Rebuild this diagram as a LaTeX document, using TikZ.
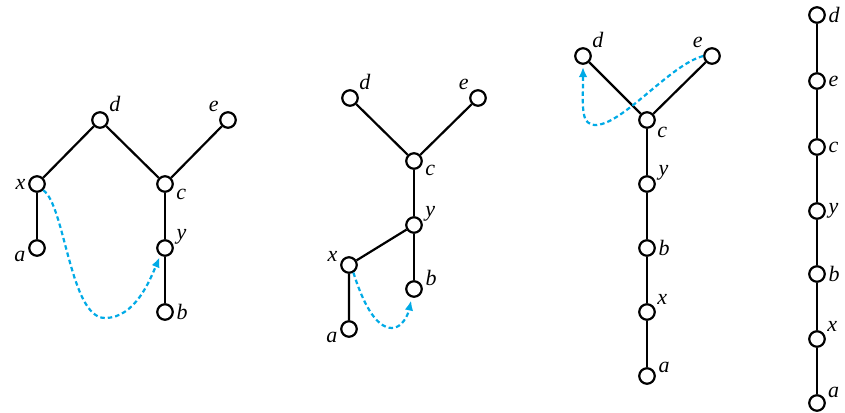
\documentclass[tikz,border=0pt]{standalone}
\usepackage{fontspec}
\setmainfont{Liberation Serif}
\usetikzlibrary{arrows.meta}
\definecolor{walkblue}{RGB}{0,170,230}
\tikzset{
  vtx/.style={draw,circle,line width=2.2pt,fill=white,minimum size=15.5pt,inner sep=0pt},
  edg/.style={line width=2.2pt},
  lbl/.style={font=\fontsize{22}{22}\selectfont\itshape,inner sep=2.5pt},
  vl/.style 2 args={label={[lbl]#1:#2}},
  walk/.style={walkblue,line width=2.2pt,dash pattern=on 4.5pt off 3pt,-{Latex[length=10pt,width=8.5pt]}},
}

\begin{document}
\begin{tikzpicture}[x=1pt,y=-1pt]
 \useasboundingbox (0,0) rectangle (845,412);
 % first tree
 \node[vtx,vl={40}{d}]   (t1d) at (100,120) {};
 \node[vtx,vl={140}{e}]  (t1e) at (228,120) {};
 \node[vtx,vl={180}{x}]  (t1x) at (37,184) {};
 \node[vtx,vl={-15}{c}]  (t1c) at (165,184) {};
 \node[vtx,vl={185}{a}]  (t1a) at (37,248) {};
 \node[vtx,vl={5}{y}]    (t1y) at (165,248) {};
 \node[vtx,vl={0}{b}]    (t1b) at (165,312) {};
 \draw[edg] (t1x)--(t1d)--(t1c)--(t1e);
 \draw[edg] (t1x)--(t1a);
 \draw[edg] (t1c)--(t1y)--(t1b);
 \draw[walk,shorten >=2pt] (t1x.-45) .. controls (65,205) and (70,318) .. (105,318)
   .. controls (135,318) and (150,280) .. (t1y.-122);
 % second tree
 \node[vtx,vl={40}{d}]   (t2d) at (350,98) {};
 \node[vtx,vl={140}{e}]  (t2e) at (478,98) {};
 \node[vtx,vl={-10}{c}]  (t2c) at (414,161) {};
 \node[vtx,vl={10}{y}]   (t2y) at (414,225) {};
 \node[vtx,vl={175}{x}]  (t2x) at (349,265) {};
 \node[vtx,vl={5}{b}]    (t2b) at (414,289) {};
 \node[vtx,vl={185}{a}]  (t2a) at (349,329) {};
 \draw[edg] (t2d)--(t2c)--(t2e);
 \draw[edg] (t2c)--(t2y)--(t2b);
 \draw[edg] (t2y)--(t2x)--(t2a);
 \draw[walk,shorten >=3pt] (t2x.-60) .. controls (362,300) and (375,328) .. (392,328)
   .. controls (402,328) and (408,315) .. (t2b.-105);
 % third tree
 \node[vtx,vl={40}{d}]   (t3d) at (583,56) {};
 \node[vtx,vl={140}{e}]  (t3e) at (712,56) {};
 \node[vtx,vl={-30}{c}]  (t3c) at (647,120) {};
 \node[vtx,vl={5}{y}]    (t3y) at (647,184) {};
 \node[vtx,vl={0}{b}]    (t3b) at (647,248) {};
 \node[vtx,vl={30}{x}]   (t3x) at (647,312) {};
 \node[vtx,vl={5}{a}]    (t3a) at (647,376) {};
 \draw[edg] (t3d)--(t3c)--(t3e);
 \draw[edg] (t3c)--(t3y)--(t3b)--(t3x)--(t3a);
 \draw[walk,shorten >=11pt] (t3e.180) .. controls (670,65) and (625,122) .. (597,125)
   .. controls (580,126) and (583,108) .. (t3d.center);
 % fourth tree: a path
 \foreach \n/\ypos/\ang in {d/15/0,e/81/0,c/147/0,y/211/0,b/274/0,x/339/30,a/403/20}
  \node[vtx,vl={\ang}{\n}] (t4\n) at (817,\ypos) {};
 \foreach \u/\v in {d/e,e/c,c/y,y/b,b/x,x/a}
  \draw[edg] (t4\u)--(t4\v);
\end{tikzpicture}
\end{document}
